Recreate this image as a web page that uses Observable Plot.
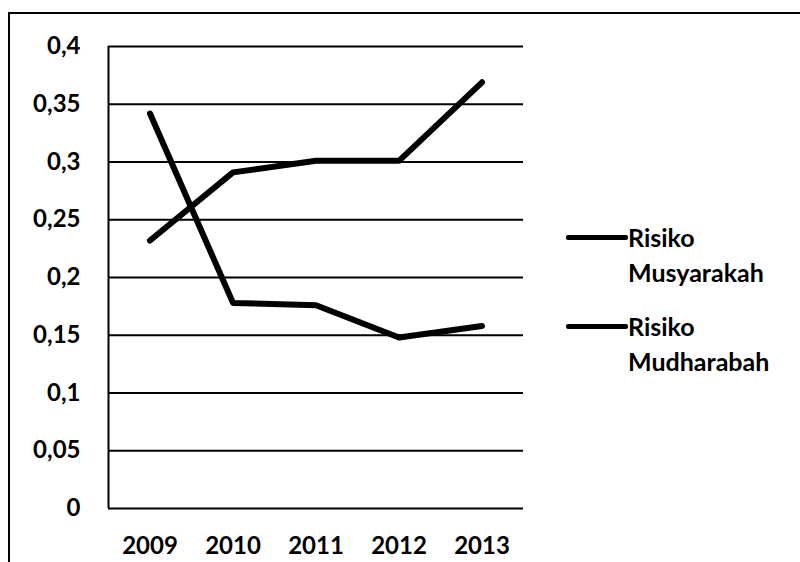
<!DOCTYPE html>
<html>
<head>
<meta charset="utf-8">
<script src="https://cdn.jsdelivr.net/npm/d3@7"></script>
<script src="https://cdn.jsdelivr.net/npm/@observablehq/plot@0.6"></script>
<style>
  html, body { margin: 0; padding: 0; background: #fff; }
  #wrap { position: relative; width: 800px; height: 562px; overflow: hidden; font-family: Lato, "Open Sans", sans-serif; font-weight: bold; }
  #box { position: absolute; left: 8px; top: 12px; width: 800px; height: 560px; border-left: 2px solid #000; border-top: 2px solid #000; }
  #chart { position: absolute; left: 0; top: 0; }
  #legend { position: absolute; left: 566px; top: 220px; font-size: 25px; line-height: 35px; color: #000; }
  .item { display: flex; align-items: flex-start; margin-bottom: 19px; }
  .swatch { width: 62px; height: 5px; background: #000; border-radius: 2px; margin-top: 15px; }
</style>
</head>
<body>
<div id="wrap">
  <div id="box"></div>
  <div id="chart"></div>
  <div id="legend"></div>
</div>
<script>
// Years on the x axis
const years = [2009, 2010, 2011, 2012, 2013];
// Risk values per series
const musyarakah = [0.232, 0.291, 0.301, 0.301, 0.369];
const mudharabah = [0.342, 0.178, 0.176, 0.148, 0.158];
const seriesNames = ["Risiko Musyarakah", "Risiko Mudharabah"];
// Y tick values
const yTicks = [0, 0.05, 0.1, 0.15, 0.2, 0.25, 0.3, 0.35, 0.4];

const rows = [
  ...years.map((year, i) => ({year, value: musyarakah[i], series: seriesNames[0]})),
  ...years.map((year, i) => ({year, value: mudharabah[i], series: seriesNames[1]}))
];

const fmt = d => String(d).replace(".", ",");

const chart = Plot.plot({
  width: 800,
  height: 562,
  marginLeft: 108,
  marginRight: 277,
  marginTop: 46,
  marginBottom: 54,
  style: {fontFamily: "Lato, 'Open Sans', sans-serif", fontWeight: "bold", fontSize: "24px", color: "#000", background: "transparent"},
  x: {domain: [2008.5, 2013.5]},
  y: {domain: [0, 0.4]},
  marks: [
    Plot.ruleY(yTicks, {stroke: "#000", strokeWidth: 2, strokeOpacity: 1}),
    Plot.ruleX([2008.5], {y1: 0, y2: 0.4, stroke: "#000", strokeWidth: 2}),
    Plot.axisY({ticks: yTicks, tickFormat: fmt, tickSize: 0, tickPadding: 28, label: null}),
    Plot.axisX({ticks: years, tickFormat: d => String(d), tickSize: 0, tickPadding: 28, label: null}),
    Plot.line(rows, {x: "year", y: "value", z: "series", stroke: "#000", strokeWidth: 6, strokeLinejoin: "round", strokeLinecap: "round"})
  ]
});
document.getElementById("chart").appendChild(chart);

// Legend
const legend = document.getElementById("legend");
for (const name of seriesNames) {
  const [a, b] = name.split(" ");
  const item = document.createElement("div");
  item.className = "item";
  item.innerHTML = `<div class="swatch"></div><div>${a}<br>${b}</div>`;
  legend.appendChild(item);
}
</script>
</body>
</html>
